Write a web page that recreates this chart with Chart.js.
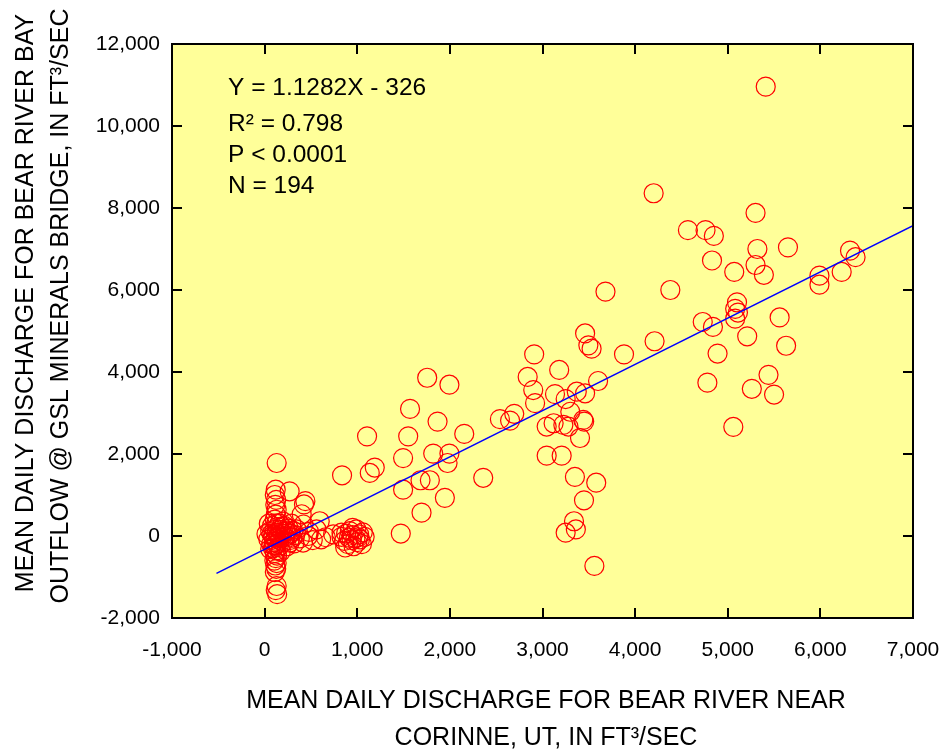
<!DOCTYPE html>
<html>
<head>
<meta charset="utf-8">
<title>Bear River discharge</title>
<script src="https://cdn.jsdelivr.net/npm/chart.js@4.4.1/dist/chart.umd.min.js"></script>
<style>
  html, body { margin: 0; padding: 0; background: #fff; }
  canvas { display: block; }
</style>
</head>
<body>
<canvas id="chart" width="945" height="751"></canvas>
<script>
// ---- データ ----
// Corinne (x) と GSL Minerals Bridge 流出 (y), ft3/sec
// 右上の散らばった点
const upperX = [5410, 4200, 5300, 4570, 4760, 4850, 5320, 5650, 6320, 6380, 4830, 5070,
  5300, 5390, 5990, 5990, 6230, 4380, 5100, 5080, 5110, 5080, 5560, 4730,
  4840, 5210, 4210, 3880, 4890, 5630, 5440, 4780, 5260, 5500, 5060, 3680];
const upperY = [10960, 8360, 7880, 7460, 7460, 7320, 7000, 7040, 6960, 6800, 6720, 6440,
  6610, 6370, 6350, 6130, 6440, 6000, 5700, 5540, 5450, 5300, 5330, 5220,
  5100, 4870, 4750, 4430, 4450, 4640, 3930, 3740, 3590, 3450, 2660, 5960];

// 中央付近の点
const middleX = [3460, 3495, 3530, 2910, 1755, 1995, 2840, 3180, 3600, 2900, 3135, 3370,
  3460, 3250, 2920, 1570, 2540, 2695, 2650, 3300, 3450, 3440, 3045, 3120,
  3225, 3280, 3405, 1867, 1550, 2155, 1495, 1820, 1995, 1975, 3045, 3207,
  1683, 1784, 1495, 2360, 3350, 3580, 1946, 3448, 1694, 1470, 3340, 3360,
  3250, 3560, 1106, 1189, 1135, 836];
const middleY = [4940, 4650, 4570, 4430, 3860, 3690, 3880, 4050, 3780, 3560, 3460, 3520,
  3480, 3340, 3240, 3100, 2850, 2980, 2815, 3030, 2790, 2830, 2670, 2750,
  2710, 2670, 2390, 2790, 2430, 2490, 1900, 2010, 2010, 1780, 1960, 1960,
  1360, 1360, 1130, 1420, 1440, 1300, 930, 870, 570, 60, 360, 160,
  80, -730, 2430, 1670, 1538, 1481];

// x ≈ 100 付近の縦の列
const columnX = [130, 120, 110, 125, 115, 130, 120, 110, 125, 140, 105, 130,
  150, 95, 120, 160, 100, 135, 115, 150, 90, 125, 110, 135,
  120, 105, 130, 115, 125, 110, 130, 120, 135];
const columnY = [1780, 1130, 1000, 880, 760, 640, 520, 400, 300, 220, 150, 80,
  30, -20, -60, -100, -140, -180, -230, -270, -300, -350, -420, -480,
  -540, -600, -660, -720, -800, -880, -1220, -1320, -1420];

// 原点付近の密集部
const coreX = [20, 40, 60, 70, 80, 90, 170, 180, 190, 200, 210, 220,
  230, 240, 250, 260, 270, 280, 290, 300, 310, 320, 330, 160,
  200, 60, 45, 175, 75, 150, 185, 245, 100];
const coreY = [50, -80, 120, -200, 250, 20, 150, -50, 60, -150, 250, -20,
  100, -250, 0, 180, -100, 60, 300, -40, 120, -180, 20, 300,
  350, -320, 300, -380, 50, -10, 230, 130, -230];

// 列の右側（x 270〜830）
const sideX = [270, 440, 425, 400, 595, 420, 345, 560, 470, 610, 415, 270,
  740, 830, 520, 660, 380, 480];
const sideY = [1090, 850, 770, 530, 360, 280, 160, 160, 0, -80, -160, -160,
  40, 80, -100, -30, -60, 100];

// x ≈ 900〜1100 の塊
const clumpX = [830, 860, 880, 900, 910, 920, 940, 950, 960, 980, 990, 1000,
  1020, 1030, 1050, 1060, 1080, 870, 950, 1010];
const clumpY = [-20, -120, 60, -200, -40, 120, -100, 20, -250, -60, 160, -150,
  40, -80, -200, 90, -20, -280, 200, -30];

// 回帰直線の両端
const fitX = [-520, 7000];
const fitY = [-913, 7571];

// 目盛り
const xTickValues = [-1000, 0, 1000, 2000, 3000, 4000, 5000, 6000, 7000];
const yTickValues = [-2000, 0, 2000, 4000, 6000, 8000, 10000, 12000];

const statsLines = ["Y = 1.1282X - 326", "R\u00B2 = 0.798", "P < 0.0001", "N = 194"];
const xTitleLines = ["MEAN DAILY DISCHARGE FOR BEAR RIVER NEAR", "CORINNE, UT, IN FT\u00B3/SEC"];
const yTitleLines = ["MEAN DAILY DISCHARGE FOR BEAR RIVER BAY", "OUTFLOW @ GSL MINERALS BRIDGE, IN FT\u00B3/SEC"];

const FONT = "'Liberation Sans', Arial, Helvetica, sans-serif";

function toPoints(xs, ys) {
  return xs.map((x, i) => ({ x, y: ys[i] }));
}

const scatterPoints = [
  ...toPoints(upperX, upperY),
  ...toPoints(middleX, middleY),
  ...toPoints(columnX, columnY),
  ...toPoints(coreX, coreY),
  ...toPoints(sideX, sideY),
  ...toPoints(clumpX, clumpY),
];

// 背景・枠・内向き目盛り・テキスト
const framePlugin = {
  id: "frame",
  beforeDraw(chart) {
    const { ctx, chartArea: a } = chart;
    ctx.save();
    ctx.fillStyle = "#FFFF99";
    ctx.fillRect(a.left, a.top, a.right - a.left, a.bottom - a.top);
    ctx.restore();
  },
  afterDraw(chart) {
    const { ctx, chartArea: a } = chart;
    const xs = chart.scales.x;
    const ys = chart.scales.y;
    const tl = 10;
    ctx.save();
    ctx.strokeStyle = "#000";
    ctx.lineWidth = 2;
    ctx.beginPath();
    xTickValues.forEach((v) => {
      const px = Math.round(xs.getPixelForValue(v));
      ctx.moveTo(px, a.bottom); ctx.lineTo(px, a.bottom - tl);
      ctx.moveTo(px, a.top); ctx.lineTo(px, a.top + tl);
    });
    yTickValues.forEach((v) => {
      const py = Math.round(ys.getPixelForValue(v));
      ctx.moveTo(a.left, py); ctx.lineTo(a.left + tl, py);
      ctx.moveTo(a.right, py); ctx.lineTo(a.right - tl, py);
    });
    ctx.stroke();
    ctx.strokeRect(a.left, a.top, a.right - a.left, a.bottom - a.top);

    // 回帰式など
    ctx.fillStyle = "#000";
    ctx.font = "24.5px " + FONT;
    ctx.textAlign = "left";
    ctx.textBaseline = "alphabetic";
    const statBase = [95, 131, 162, 193];
    statsLines.forEach((t, i) => ctx.fillText(t, 228, statBase[i]));

    // 軸タイトル
    ctx.font = "25px " + FONT;
    ctx.textAlign = "center";
    ctx.fillText(xTitleLines[0], 546, 708);
    ctx.fillText(xTitleLines[1], 546, 745);

    ctx.save();
    ctx.translate(33, 303);
    ctx.rotate(-Math.PI / 2);
    ctx.fillText(yTitleLines[0], 0, 0);
    ctx.restore();
    ctx.save();
    ctx.translate(68, 306);
    ctx.rotate(-Math.PI / 2);
    ctx.fillText(yTitleLines[1], 0, 0);
    ctx.restore();
    ctx.restore();
  },
};

new Chart(document.getElementById("chart"), {
  type: "scatter",
  data: {
    datasets: [
      {
        type: "line",
        data: toPoints(fitX, fitY),
        borderColor: "#0000FF",
        borderWidth: 1.5,
        pointRadius: 0,
        fill: false,
        order: 0,
      },
      {
        data: scatterPoints,
        pointStyle: "circle",
        pointRadius: 9.5,
        pointBorderColor: "#FF0000",
        pointBackgroundColor: "rgba(0,0,0,0)",
        pointBorderWidth: 1.2,
        borderColor: "#FF0000",
        backgroundColor: "rgba(0,0,0,0)",
        order: 1,
      },
    ],
  },
  options: {
    responsive: false,
    animation: false,
    devicePixelRatio: 1,
    layout: { padding: { top: 44, right: 32, left: 0, bottom: 0 } },
    plugins: { legend: { display: false }, tooltip: { enabled: false } },
    scales: {
      x: {
        type: "linear",
        min: -1000,
        max: 7000,
        afterBuildTicks: (s) => { s.ticks = xTickValues.map((v) => ({ value: v })); },
        afterFit: (s) => {
          s.height = 133;
          s.paddingLeft = 0;
          s.paddingRight = 0;
        },
        grid: { display: false, drawTicks: false },
        border: { display: false },
        ticks: {
          padding: 20,
          color: "#000",
          font: { family: FONT, size: 21 },
          callback: (v) => v.toLocaleString("en-US"),
        },
      },
      y: {
        type: "linear",
        min: -2000,
        max: 12000,
        afterBuildTicks: (s) => { s.ticks = yTickValues.map((v) => ({ value: v })); },
        afterFit: (s) => {
          s.width = 172;
          s.paddingTop = 0;
          s.paddingBottom = 0;
        },
        grid: { display: false, drawTicks: false },
        border: { display: false },
        ticks: {
          padding: 12,
          color: "#000",
          font: { family: FONT, size: 21 },
          callback: (v) => v.toLocaleString("en-US"),
        },
      },
    },
  },
  plugins: [framePlugin],
});
</script>
</body>
</html>
